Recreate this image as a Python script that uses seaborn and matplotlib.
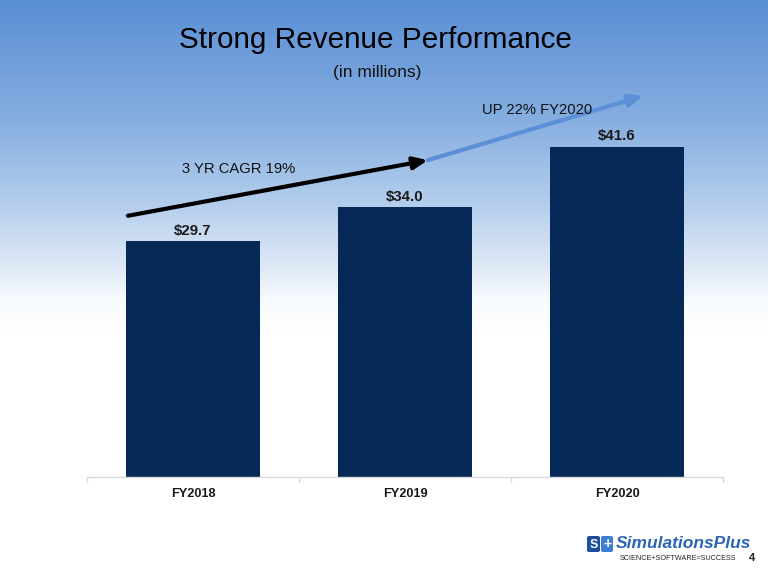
import numpy as np
import pandas as pd
import matplotlib
matplotlib.use("Agg")
import matplotlib.pyplot as plt
from matplotlib.colors import LinearSegmentedColormap
from matplotlib.patches import FancyBboxPatch, Rectangle
import seaborn as sns

# ---- data ----
categories = ["FY2018", "FY2019", "FY2020"]
revenue = [29.7, 34.0, 41.6]
value_labels = ["$29.7", "$34.0", "$41.6"]
title = "Strong Revenue Performance"
subtitle = "(in millions)"
cagr_label = "3 YR CAGR 19%"
up_label = "UP 22% FY2020"
# trend arrows (data coords: category index, value)
cagr_arrow = [(-0.307, 32.9), (1.108, 39.9)]
up_arrow = [(1.108, 39.9), (2.123, 48.0)]

sns.set_theme(style="white")
plt.rcParams["font.family"] = ["Liberation Sans", "DejaVu Sans"]

W, H = 768, 577
fig = plt.figure(figsize=(W / 100, H / 100), dpi=100)

def fx(px):
    return px / W

def fy(py):
    return 1 - py / H

# background gradient
bg = fig.add_axes([0, 0, 1, 1], zorder=-10)
bg.set_axis_off()
cmap = LinearSegmentedColormap.from_list(
    "bg", [(0.0, "#5a8fd5"), (0.2, "#84ade0"), (0.35, "#b3cdec"), (0.45, "#dae6f5"),
           (0.52, "#f7fafd"), (0.58, "#ffffff"), (1.0, "#ffffff")])
grad = np.linspace(0, 1, H).reshape(-1, 1)
bg.imshow(grad, aspect="auto", cmap=cmap, extent=[0, 1, 0, 1], origin="upper")
bg.set_xlim(0, 1)
bg.set_ylim(0, 1)

ax = fig.add_axes([fx(87), fy(477), fx(723 - 87), (477 - 90) / H])
ax.patch.set_alpha(0)
df = pd.DataFrame({"cat": categories, "rev": revenue})
sns.barplot(data=df, x="cat", y="rev", color="#062856", saturation=1, width=0.63,
            linewidth=0, edgecolor="none", ax=ax)
ax.set_ylim(0, 48.74)
ax.set_xlim(-0.5, 2.5)
ax.set_xlabel("")
ax.set_ylabel("")
ax.set_yticks([])
for s in ["top", "right", "left"]:
    ax.spines[s].set_visible(False)
ax.spines["bottom"].set_color("#d9d9d9")
ax.spines["bottom"].set_linewidth(1.0)
ax.set_xticks([0, 1, 2])
ax.set_xticklabels(categories, fontsize=9.2, fontweight="bold", color="#1a1a1a")
ax.tick_params(axis="x", length=0, pad=8)
# category separators
for xs in [-0.5, 0.5, 1.5, 2.5]:
    ax.plot([xs, xs], [0, -0.6], color="#d9d9d9", lw=1, clip_on=False)

for i, (v, lab) in enumerate(zip(revenue, value_labels)):
    ax.text(i, v + 0.8, lab, ha="center", va="baseline", fontsize=10.8, fontweight="bold", color="#1a1a1a")

ax.annotate("", xy=cagr_arrow[1], xytext=cagr_arrow[0],
            arrowprops=dict(arrowstyle="-|>,head_length=0.7,head_width=0.3", color="black", lw=3, shrinkA=0, shrinkB=0),
            annotation_clip=False)
ax.annotate("", xy=up_arrow[1], xytext=up_arrow[0],
            arrowprops=dict(arrowstyle="-|>,head_length=0.7,head_width=0.3", color="#5b90d8", lw=3, shrinkA=0, shrinkB=0),
            annotation_clip=False)

fig.text(fx(182), fy(173), cagr_label, ha="left", va="baseline", fontsize=10.6, color="#111111")
fig.text(fx(482), fy(114), up_label, ha="left", va="baseline", fontsize=10.6, color="#111111")

fig.text(fx(375.5), fy(48), title, ha="center", va="baseline", fontsize=21.4, color="black")
fig.text(fx(377), fy(76.5), subtitle, ha="center", va="baseline", fontsize=12.5, color="#111111")

# logo
lg = fig.add_axes([0, 0, 1, 1], zorder=5)
lg.set_axis_off()
lg.set_xlim(0, W)
lg.set_ylim(H, 0)
lg.add_patch(Rectangle((583, 531), 172, 36, facecolor="white", edgecolor="none"))
lg.add_patch(FancyBboxPatch((587, 536), 13, 16, boxstyle="round,pad=0,rounding_size=2", facecolor="#1f4f9c", edgecolor="none"))
lg.add_patch(FancyBboxPatch((601, 536), 12, 16, boxstyle="round,pad=0,rounding_size=2", facecolor="#3d7fd1", edgecolor="none"))
lg.text(593.5, 544.5, "S", ha="center", va="center", fontsize=9, fontweight="bold", color="white")
lg.text(607, 544, "+", ha="center", va="center", fontsize=10, fontweight="bold", color="white")
lg.text(616, 544, "SimulationsPlus", ha="left", va="center", fontsize=12.5, fontweight="bold", style="italic", color="#2a64b8")
lg.text(620, 558, "SCIENCE+SOFTWARE=SUCCESS", ha="left", va="center", fontsize=5.2, color="#222222")
lg.text(752, 558, "4", ha="center", va="center", fontsize=8, fontweight="bold", color="#222222")

fig.savefig("out.png", dpi=100)
